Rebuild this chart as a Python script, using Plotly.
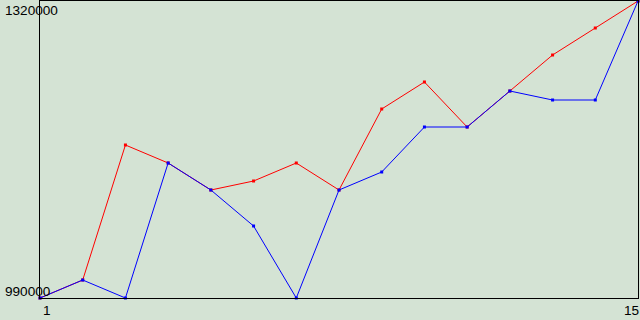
import plotly.graph_objects as go

x_vals = list(range(1, 16))
red_vals = [990000, 1010000, 1160000, 1140000, 1110000, 1120000, 1140000, 1110000,
            1200000, 1230000, 1180000, 1220000, 1260000, 1290000, 1320000]
blue_vals = [990000, 1010000, 990000, 1140000, 1110000, 1070000, 990000, 1110000,
             1130000, 1180000, 1180000, 1220000, 1210000, 1210000, 1320000]
y_tick_labels = ["990000", "1320000"]
y_tick_vals = [990000, 1320000]
x_tick_labels = ["1", "15"]
x_tick_vals = [1, 15]

BG = "#d4e3d4"

fig = go.Figure()
fig.add_trace(go.Scatter(x=x_vals, y=red_vals, mode="lines+markers",
                         line=dict(color="#ff0000", width=1),
                         marker=dict(color="#ff0000", size=3, symbol="square"),
                         cliponaxis=False))
fig.add_trace(go.Scatter(x=x_vals, y=blue_vals, mode="lines+markers",
                         line=dict(color="#0000ff", width=1),
                         marker=dict(color="#0000ff", size=3, symbol="square"),
                         cliponaxis=False))

font = dict(family="Liberation Sans", size=13.6, color="#000000")
annotations = []
# y labels
annotations.append(dict(x=0, xref="paper", y=y_tick_vals[1], yref="y", text=y_tick_labels[1],
                        xanchor="left", yanchor="top", xshift=-37, yshift=0,
                        showarrow=False, font=font))
annotations.append(dict(x=0, xref="paper", y=y_tick_vals[0], yref="y", text=y_tick_labels[0],
                        xanchor="left", yanchor="bottom", xshift=-37, yshift=-3,
                        showarrow=False, font=font))
# x labels
annotations.append(dict(x=x_tick_vals[0], xref="x", y=0, yref="paper", text=x_tick_labels[0],
                        xanchor="left", yanchor="top", xshift=1, yshift=-3,
                        showarrow=False, font=font))
annotations.append(dict(x=x_tick_vals[1], xref="x", y=0, yref="paper", text=x_tick_labels[1],
                        xanchor="right", yanchor="top", xshift=3, yshift=-3,
                        showarrow=False, font=font))

fig.update_layout(
    width=640, height=320,
    margin=dict(l=40, r=2, t=1, b=22),
    paper_bgcolor=BG, plot_bgcolor=BG,
    showlegend=False,
    annotations=annotations,
    xaxis=dict(range=[1, 15], showgrid=False, zeroline=False, showticklabels=False,
               ticks="", showline=True, linecolor="#000000", linewidth=1, mirror=True,
               fixedrange=True),
    yaxis=dict(range=[990000, 1320000], showgrid=False, zeroline=False, showticklabels=False,
               ticks="", showline=True, linecolor="#000000", linewidth=1, mirror=True,
               fixedrange=True),
)

fig.write_html("out.html", config={"displayModeBar": False})
